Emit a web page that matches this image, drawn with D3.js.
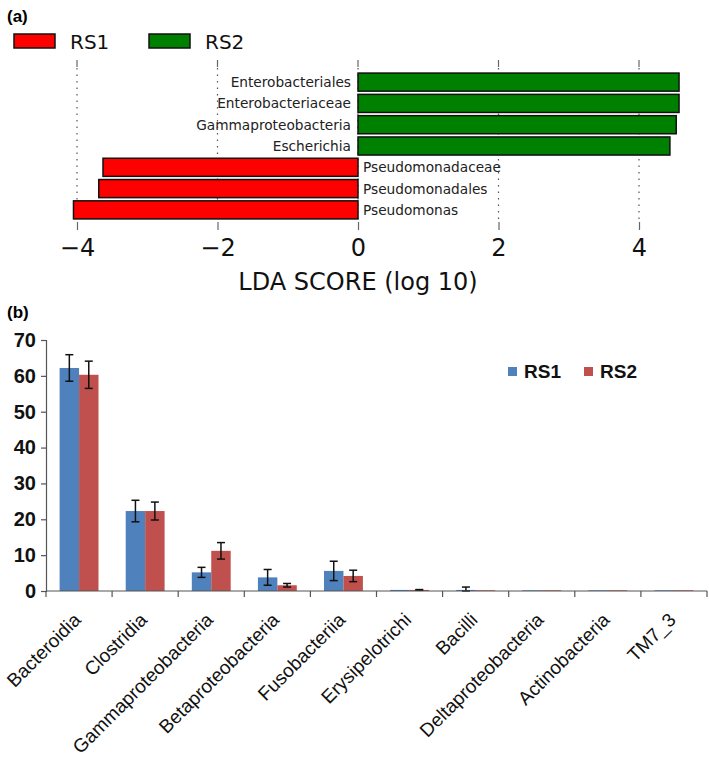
<!DOCTYPE html>
<html><head><meta charset="utf-8">
<script src="https://cdn.jsdelivr.net/npm/d3@7"></script>
<style>body{margin:0;background:#fff}svg{display:block}</style>
</head><body>
<svg id="c" width="709" height="757"></svg>
<script>
// ---- Panel (a) data: LEfSe LDA scores ----
const ldaTaxa = ["Enterobacteriales","Enterobacteriaceae","Gammaproteobacteria","Escherichia","Pseudomonadaceae","Pseudomonadales","Pseudomonas"];
const ldaScores = [4.57, 4.57, 4.53, 4.44, -3.63, -3.69, -4.05];
const ldaGroups = ["RS2","RS2","RS2","RS2","RS1","RS1","RS1"];
const ldaTicks = [-4, -2, 0, 2, 4];

// ---- Panel (b) data: class-level relative abundance ----
const classes = ["Bacteroidia","Clostridia","Gammaproteobacteria","Betaproteobacteria","Fusobacteriia","Erysipelotrichi","Bacilli","Deltaproteobacteria","Actinobacteria","TM7_3"];
const rs1Values = [62.2, 22.3, 5.2, 3.8, 5.6, 0.3, 0.3, 0.2, 0.2, 0.2];
const rs2Values = [60.3, 22.3, 11.2, 1.6, 4.2, 0.3, 0.2, 0.2, 0.2, 0.2];
const rs1Err = [3.7, 3.0, 1.4, 2.2, 2.7, 0.0, 0.8, 0.0, 0.0, 0.0];
const rs2Err = [3.8, 2.5, 2.3, 0.5, 1.6, 0.1, 0.0, 0.0, 0.0, 0.0];
const yTicks = [0, 10, 20, 30, 40, 50, 60, 70];
const seriesNames = ["RS1","RS2"];

const svg = d3.select("#c");

// ===== Panel (a) =====
const dj = "'DejaVu Sans', sans-serif";
svg.append("text").attr("x", 7).attr("y", 22).text("(a)")
  .attr("font-family","Arial, 'Liberation Sans', sans-serif").attr("font-weight","bold").attr("font-size",17);

const ldaColor = {RS1:"#ff0000", RS2:"#008000"};
const legA = [{n:"RS1", x:14}, {n:"RS2", x:149}];
legA.forEach(l => {
  svg.append("rect").attr("x", l.x).attr("y", 34).attr("width", 41).attr("height", 14)
    .attr("fill", ldaColor[l.n]).attr("stroke","#111").attr("stroke-width",1.5);
  svg.append("text").attr("x", l.x + 56).attr("y", 49).text(l.n)
    .attr("font-family", dj).attr("font-size", 20).attr("fill","#111");
});

const xA = d3.scaleLinear().domain([-4, 4]).range([77, 639]);
const yA = d3.scaleBand().domain(ldaTaxa).range([62, 230]).paddingInner(0.15).paddingOuter(0.52);
const gA = svg.append("g");
ldaTicks.forEach(t => {
  gA.append("line").attr("x1", xA(t)).attr("x2", xA(t)).attr("y1", 68).attr("y2", 222)
    .attr("stroke","#555").attr("stroke-width",1.2).attr("stroke-dasharray","1.5,5");
  gA.append("line").attr("x1", xA(t)).attr("x2", xA(t)).attr("y1", 60).attr("y2", 67)
    .attr("stroke","#666").attr("stroke-width",1.2);
});
gA.selectAll("rect.b").data(ldaTaxa).join("rect").attr("class","b")
  .attr("x", (d,i) => Math.min(xA(0), xA(ldaScores[i])))
  .attr("width", (d,i) => Math.abs(xA(ldaScores[i]) - xA(0)))
  .attr("y", d => yA(d)).attr("height", yA.bandwidth())
  .attr("fill", (d,i) => ldaColor[ldaGroups[i]]).attr("stroke","#111").attr("stroke-width",1.5);
gA.selectAll("text.l").data(ldaTaxa).join("text").attr("class","l")
  .attr("x", (d,i) => ldaScores[i] > 0 ? xA(0) - 7 : xA(0) + 5)
  .attr("y", d => yA(d) + yA.bandwidth()/2 + 5)
  .attr("text-anchor", (d,i) => ldaScores[i] > 0 ? "end" : "start")
  .attr("font-family", dj).attr("font-size", 13.7).attr("fill","#222").text(d => d);
const axA = d3.axisBottom(xA).tickValues(ldaTicks).tickSize(8).tickPadding(9)
  .tickFormat(d => d < 0 ? "\u2212" + Math.abs(d) : d);
const axAg = svg.append("g").attr("transform","translate(0,222)").call(axA);
axAg.select(".domain").remove();
axAg.selectAll(".tick line").attr("stroke","#666").attr("stroke-width",1.2);
axAg.selectAll("text").attr("font-family", dj).attr("font-size", 24).attr("fill","#111");
svg.append("text").attr("x", xA(0)).attr("y", 290).attr("text-anchor","middle")
  .attr("font-family", dj).attr("font-size", 24).attr("fill","#111").text("LDA SCORE (log 10)");

// ===== Panel (b) =====
const ar = "Arial, 'Liberation Sans', sans-serif";
svg.append("text").attr("x", 7).attr("y", 318).text("(b)")
  .attr("font-family", ar).attr("font-weight","bold").attr("font-size",17);

const xB = d3.scaleBand().domain(classes).range([46, 707]);
const xS = d3.scaleBand().domain(seriesNames).range([0, xB.bandwidth()]).paddingInner(0).paddingOuter(0.7);
const yB = d3.scaleLinear().domain([0, 70]).range([591, 340]);
const colB = {RS1:"#4f81bd", RS2:"#c0504d"};
const vals = {RS1: rs1Values, RS2: rs2Values};
const errs = {RS1: rs1Err, RS2: rs2Err};

const gB = svg.append("g");
seriesNames.forEach(s => {
  gB.selectAll("rect." + s).data(classes).join("rect").attr("class", s)
    .attr("x", d => xB(d) + xS(s)).attr("width", xS.bandwidth())
    .attr("y", (d,i) => yB(vals[s][i])).attr("height", (d,i) => yB(0) - yB(vals[s][i]))
    .attr("fill", colB[s]);
});
seriesNames.forEach(s => {
  classes.forEach((d,i) => {
    const e = errs[s][i];
    if (e <= 0) return;
    const cx = xB(d) + xS(s) + xS.bandwidth()/2;
    const y1 = yB(vals[s][i] + e), y2 = yB(Math.max(0, vals[s][i] - e));
    gB.append("line").attr("x1", cx).attr("x2", cx).attr("y1", y1).attr("y2", y2).attr("stroke","#111").attr("stroke-width",1.5);
    [y1, y2].forEach(yy => gB.append("line").attr("x1", cx-4).attr("x2", cx+4).attr("y1", yy).attr("y2", yy).attr("stroke","#111").attr("stroke-width",1.5));
  });
});

const axY = d3.axisLeft(yB).tickValues(yTicks).tickSize(5).tickPadding(5);
const axYg = svg.append("g").attr("transform","translate(46,0)").call(axY);
axYg.selectAll("path,line").attr("stroke","#555").attr("stroke-width",1.2);
axYg.selectAll("text").attr("font-family", ar).attr("font-weight","bold").attr("font-size",20).attr("fill","#111");

const xAxisG = svg.append("g");
xAxisG.append("line").attr("x1", 46).attr("x2", 707).attr("y1", 591).attr("y2", 591).attr("stroke","#555").attr("stroke-width",1.2);
const bounds = classes.map(d => xB(d)).concat([xB.range()[1]]);
xAxisG.selectAll("line.tk").data(bounds).join("line").attr("class","tk")
  .attr("x1", d => d).attr("x2", d => d).attr("y1", 591).attr("y2", 597).attr("stroke","#555").attr("stroke-width",1.2);
xAxisG.selectAll("text").data(classes).join("text")
  .attr("transform", d => `translate(${xB(d) + xB.bandwidth()/2 + 3},${621}) rotate(-45)`)
  .attr("text-anchor","end").attr("font-family", ar).attr("font-size",19).attr("fill","#111")
  .text(d => d);

const legB = [{n:"RS1", x:508}, {n:"RS2", x:584}];
legB.forEach(l => {
  svg.append("rect").attr("x", l.x).attr("y", 367).attr("width", 9).attr("height", 9).attr("fill", colB[l.n]);
  svg.append("text").attr("x", l.x + 16).attr("y", 378).text(l.n)
    .attr("font-family", ar).attr("font-weight","bold").attr("font-size",19).attr("fill","#111");
});
</script>
</body></html>
